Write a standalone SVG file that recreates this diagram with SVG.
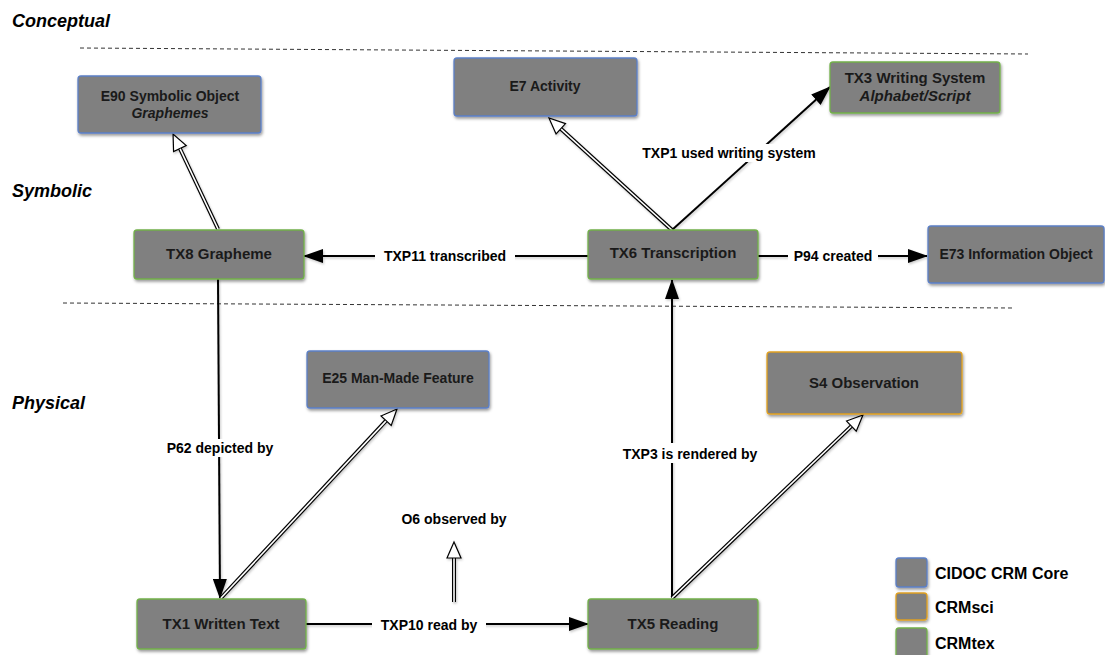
<svg xmlns="http://www.w3.org/2000/svg" width="1105" height="655" viewBox="0 0 1105 655">
<defs>
<style>
.node rect{fill:#808080;stroke-width:1.3;filter:url(#sh)}
.core rect{stroke:#5b7fc6}
.sci rect{stroke:#e0a020}
.tex rect{stroke:#72b04a}
.nt{font-family:"Liberation Sans",Arial,sans-serif;font-weight:bold;font-size:14px;fill:#1a1a1a;text-anchor:middle}
.big{font-size:15px}
.it{font-style:italic}
.lbl{font-family:"Liberation Sans",Arial,sans-serif;font-weight:bold;font-size:14px;fill:#000;text-anchor:middle}
.layer{font-family:"Liberation Sans",Arial,sans-serif;font-weight:bold;font-style:italic;font-size:18px;fill:#000}
.leg{font-family:"Liberation Sans",Arial,sans-serif;font-weight:bold;font-size:16px;fill:#000}
.dash{stroke:#333;stroke-width:1;stroke-dasharray:4 3;fill:none}
.rel{stroke:#000;stroke-width:2;fill:none;marker-end:url(#arr)}
.isa{stroke:#000;stroke-width:4;fill:none;marker-end:url(#inh)}
.isaw{stroke:#fff;stroke-width:1.6;fill:none}
.bg{fill:#fff}
</style>
<filter id="sh" x="-10%" y="-20%" width="125%" height="150%">
<feDropShadow dx="1" dy="2" stdDeviation="1.5" flood-color="#000" flood-opacity="0.4"/>
</filter>
<filter id="lsh" x="-10%" y="-10%" width="130%" height="130%">
<feDropShadow dx="1" dy="1.5" stdDeviation="0.8" flood-color="#000" flood-opacity="0.22"/>
</filter>
<marker id="arr" viewBox="0 0 20 14" refX="19" refY="7" markerWidth="20" markerHeight="14" markerUnits="userSpaceOnUse" orient="auto">
<path d="M0,0 L20,7 L0,14 z" fill="#000"/>
</marker>
<marker id="inh" viewBox="-1 -1 18 16" refX="0" refY="7" markerWidth="18" markerHeight="16" markerUnits="userSpaceOnUse" orient="auto" overflow="visible">
<path d="M0,0 L16,7 L0,14 z" fill="#fff" stroke="#000" stroke-width="1.2" stroke-linejoin="miter"/>
</marker>
</defs>
<rect width="1105" height="655" fill="#fff"/>

<g id="layers">
<text class="layer" x="12" y="27">Conceptual</text>
<text class="layer" x="12" y="197">Symbolic</text>
<text class="layer" x="12" y="409">Physical</text>
<line class="dash" x1="80" y1="48" x2="1028" y2="54"/>
<line class="dash" x1="63" y1="303" x2="1012" y2="308"/>
</g>

<g id="connectors">
<g filter="url(#lsh)">
<path class="rel" d="M588,256 L304,256"/>
<path class="rel" d="M758,256 L927,256"/>
<path class="rel" d="M672,230 L830,87"/>
<path class="rel" d="M218,279 L220,598"/>
<path class="rel" d="M306,624 L588,624"/>
<path class="rel" d="M672,598 L672,280"/>
<path class="isa" d="M218,229 L179.9,148.5"/>
<path class="isaw" d="M218,229 L180.1,148.9"/>
<path class="isa" d="M672,230 L560.8,128.8"/>
<path class="isaw" d="M672,230 L561.2,129.1"/>
<path class="isa" d="M221,598 L386.1,420.7"/>
<path class="isaw" d="M221,598 L385.8,421.1"/>
<path class="isa" d="M672,598 L851.4,426.1"/>
<path class="isaw" d="M672,598 L851.0,426.5"/>
<path class="isa" d="M454,602 L454,558"/>
<path class="isaw" d="M454,602 L454,558.5"/>
</g>
<g id="labels">
<rect class="bg" x="375" y="247" width="140" height="18"/>
<text class="lbl" x="445" y="261">TXP11 transcribed</text>
<rect class="bg" x="788" y="247" width="90" height="18"/>
<text class="lbl" x="833" y="261">P94 created</text>
<rect class="bg" x="638" y="144" width="182" height="18"/>
<text class="lbl" x="729" y="158">TXP1 used writing system</text>
<rect class="bg" x="162" y="439" width="116" height="18"/>
<text class="lbl" x="220" y="453">P62 depicted by</text>
<rect class="bg" x="372" y="616" width="114" height="18"/>
<text class="lbl" x="429" y="630">TXP10 read by</text>
<rect class="bg" x="622" y="443" width="138" height="20"/>
<text class="lbl" x="690" y="459">TXP3 is rendered by</text>
<text class="lbl" x="454" y="524">O6 observed by</text>
</g>
</g>

<g id="E90" class="node core">
<rect x="78" y="76" width="183" height="57" rx="3"/>
<text class="nt" x="170" y="101">E90 Symbolic Object</text>
<text class="nt it" x="170" y="118">Graphemes</text>
</g>
<g id="TX8" class="node tex">
<rect x="134" y="230" width="170" height="49" rx="3"/>
<text class="nt big" x="219" y="259">TX8 Grapheme</text>
</g>
<g id="E7" class="node core">
<rect x="454" y="58" width="183" height="58" rx="3"/>
<text class="nt" x="545" y="91">E7 Activity</text>
</g>
<g id="TX3" class="node tex">
<rect x="830" y="62" width="170" height="51" rx="3"/>
<text class="nt big" x="915" y="83">TX3 Writing System</text>
<text class="nt big it" x="915" y="101">Alphabet/Script</text>
</g>
<g id="TX6" class="node tex">
<rect x="588" y="230" width="170" height="49" rx="3"/>
<text class="nt big" x="673" y="258">TX6 Transcription</text>
</g>
<g id="E73" class="node core">
<rect x="928" y="226" width="176" height="57" rx="3"/>
<text class="nt" x="1016" y="259">E73 Information Object</text>
</g>
<g id="E25" class="node core">
<rect x="307" y="351" width="182" height="57" rx="3"/>
<text class="nt" x="398" y="383">E25 Man-Made Feature</text>
</g>
<g id="S4" class="node sci">
<rect x="767" y="352" width="195" height="62" rx="3"/>
<text class="nt big" x="864" y="388">S4 Observation</text>
</g>
<g id="TX1" class="node tex">
<rect x="137" y="599" width="169" height="50" rx="3"/>
<text class="nt big" x="221" y="629">TX1 Written Text</text>
</g>
<g id="TX5" class="node tex">
<rect x="588" y="599" width="170" height="50" rx="3"/>
<text class="nt big" x="673" y="629">TX5 Reading</text>
</g>

<g id="legend">
<g class="node core"><rect x="896" y="558" width="31" height="29" rx="3"/></g>
<text class="leg" x="935" y="579">CIDOC CRM Core</text>
<g class="node sci"><rect x="896" y="593" width="31" height="27" rx="3"/></g>
<text class="leg" x="935" y="613">CRMsci</text>
<g class="node tex"><rect x="896" y="628" width="31" height="30" rx="3"/></g>
<text class="leg" x="935" y="649">CRMtex</text>
</g>
</svg>
